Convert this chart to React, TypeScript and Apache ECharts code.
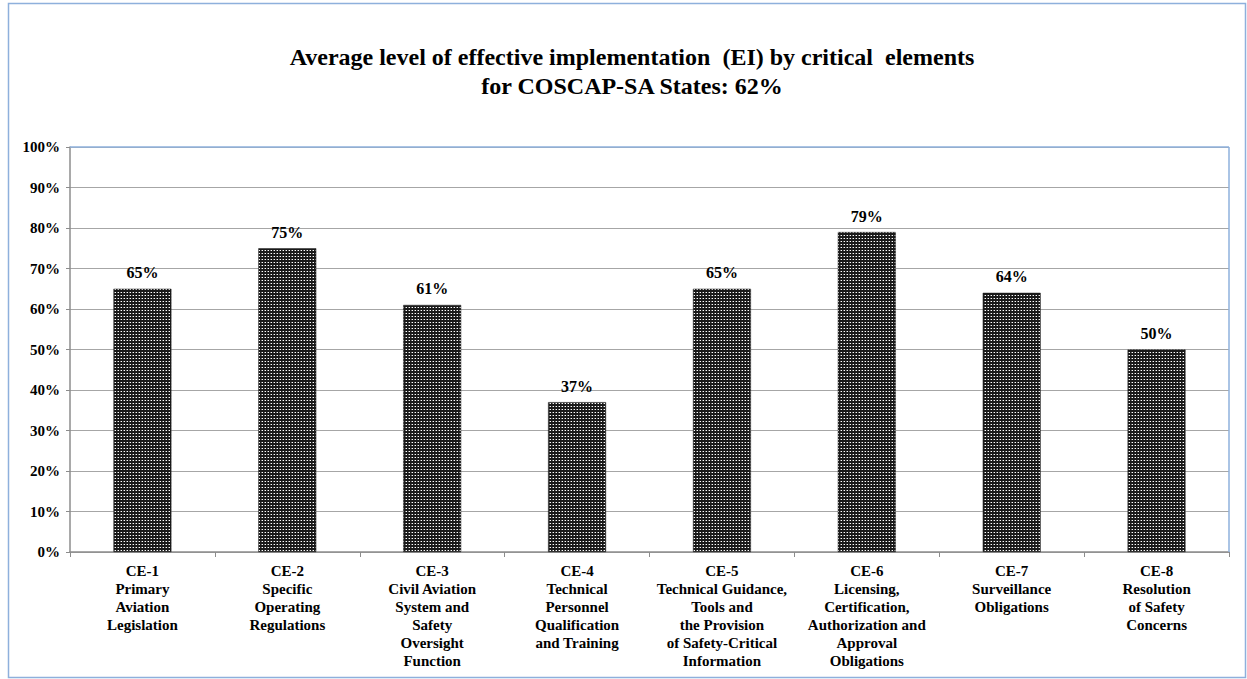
import React, { useEffect, useRef } from "react";
import * as echarts from "echarts";

const titleLines = ["Average level of effective implementation  (EI) by critical  elements", "for COSCAP-SA States: 62%"];
const categories = [
  "CE-1\nPrimary\nAviation\nLegislation",
  "CE-2\nSpecific\nOperating\nRegulations",
  "CE-3\nCivil Aviation\nSystem and\nSafety\nOversight\nFunction",
  "CE-4\nTechnical\nPersonnel\nQualification\nand Training",
  "CE-5\nTechnical Guidance,\nTools and\nthe Provision\nof Safety-Critical\nInformation",
  "CE-6\nLicensing,\nCertification,\nAuthorization and\nApproval\nObligations",
  "CE-7\nSurveillance\nObligations",
  "CE-8\nResolution\nof Safety\nConcerns",
];
const values = [65, 75, 61, 37, 65, 79, 64, 50];
const yTicks = [0, 10, 20, 30, 40, 50, 60, 70, 80, 90, 100];

function makePattern(): HTMLCanvasElement {
  const c = document.createElement("canvas");
  c.width = 3;
  c.height = 3;
  const ctx = c.getContext("2d")!;
  ctx.fillStyle = "#1a1a1a";
  ctx.fillRect(0, 0, 3, 3);
  ctx.fillStyle = "#ffffff";
  ctx.fillRect(1, 1, 1, 1);
  ctx.fillStyle = "#777777";
  ctx.fillRect(0, 1, 1, 1);
  return c;
}

export default function App() {
  const ref = useRef<HTMLDivElement>(null);
  useEffect(() => {
    const chart = echarts.init(ref.current!, null, { renderer: "svg" });
    const font = "Times New Roman, Liberation Serif, serif";
    chart.setOption({
      animation: false,
      backgroundColor: "#ffffff",
      textStyle: { fontFamily: font },
      title: {
        text: titleLines.join("\n"),
        left: 627,
        textAlign: "center",
        top: 37,
        textStyle: { fontFamily: font, fontWeight: "bold", fontSize: 24, color: "#000", lineHeight: 29 },
      },
      graphic: [
        { type: "rect", shape: { x: 8.5, y: 3.5, width: 1237, height: 674 }, style: { fill: "none", stroke: "#8eb0dc", lineWidth: 1.5 }, silent: true },
        { type: "line", shape: { x1: 70, y1: 147, x2: 1229, y2: 147 }, style: { stroke: "#8eb0dc", lineWidth: 1.5 }, z: 10 },
        { type: "line", shape: { x1: 1229, y1: 147, x2: 1229, y2: 552 }, style: { stroke: "#8eb0dc", lineWidth: 1.5 }, z: 10 },
      ],
      grid: { left: 70, right: 18, top: 147, bottom: 127, containLabel: false },
      xAxis: {
        type: "category",
        data: categories,
        axisLine: { lineStyle: { color: "#8c8c8c", width: 1.5 } },
        axisTick: { show: true, length: 5, lineStyle: { color: "#8c8c8c" } },
        axisLabel: {
          interval: 0,
          margin: 10,
          fontFamily: font,
          fontWeight: "bold",
          fontSize: 15,
          lineHeight: 18,
          color: "#000",
        },
      },
      yAxis: {
        type: "value",
        min: 0,
        max: 100,
        interval: 10,
        axisLine: { show: true, lineStyle: { color: "#8c8c8c", width: 1.5 } },
        axisTick: { show: true, length: 4, lineStyle: { color: "#8c8c8c" } },
        splitLine: { lineStyle: { color: "#a6a6a6", width: 1.2 } },
        axisLabel: {
          formatter: (v: number) => (yTicks.includes(v) ? v + "%" : ""),
          fontFamily: font,
          fontWeight: "bold",
          fontSize: 15,
          color: "#000",
          margin: 10,
        },
      },
      series: [
        {
          type: "bar",
          data: values,
          barWidth: "40%",
          itemStyle: { color: { image: makePattern(), repeat: "repeat" } as any, borderColor: "#222", borderWidth: 0.5 },
          label: {
            show: true,
            position: "top",
            distance: 8,
            formatter: "{c}%",
            fontFamily: font,
            fontWeight: "bold",
            fontSize: 16,
            color: "#000",
          },
        },
      ],
    });
    return () => chart.dispose();
  }, []);
  return <div style={{ position: "absolute", left: 0, top: 0, width: 1247, height: 679 }}><div ref={ref} style={{ width: 1247, height: 679 }} /></div>;
}
